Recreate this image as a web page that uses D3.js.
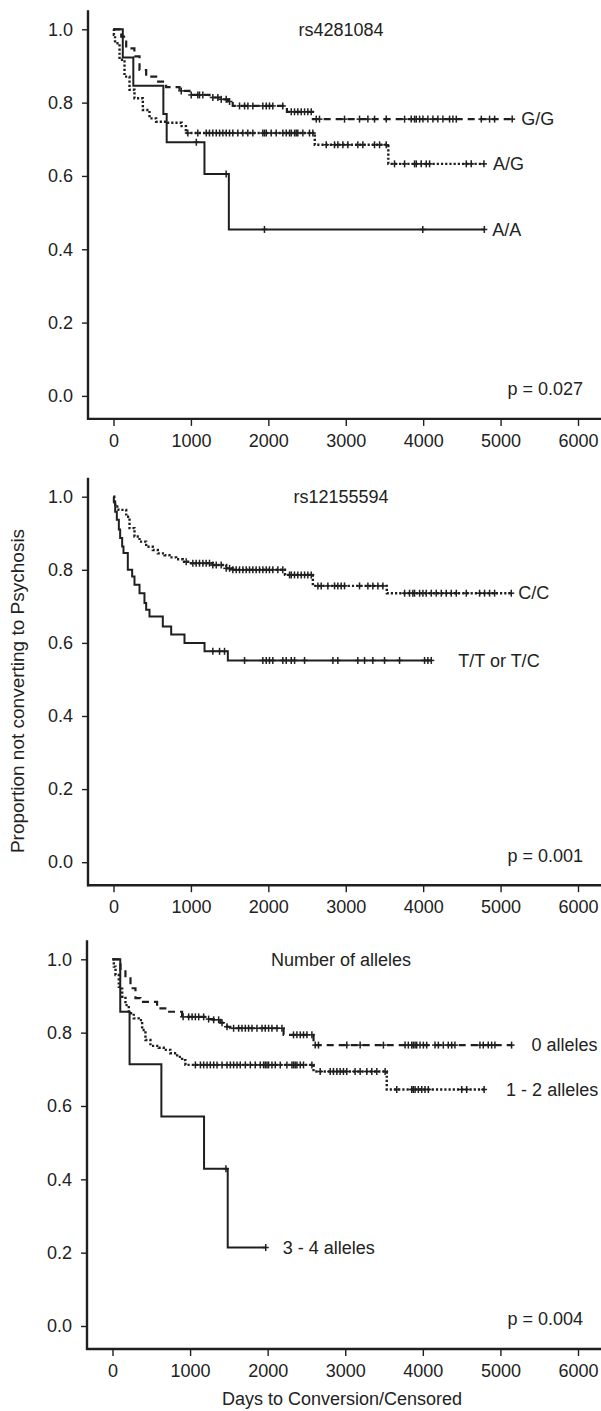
<!DOCTYPE html>
<html><head><meta charset="utf-8">
<script src="https://cdn.jsdelivr.net/npm/d3@7"></script>
<style>
body{margin:0;background:#fff;}
svg text{font-family:"Liberation Sans",Arial,Helvetica,sans-serif;fill:#222;}
</style></head><body>
<svg id="c" width="601" height="1411"></svg>
<script>
// ---------- data ----------
const xTicks = [0, 1000, 2000, 3000, 4000, 5000, 6000];
const yTicks = [0, 0.2, 0.4, 0.6, 0.8, 1.0];
const panelTitles = ["rs4281084", "rs12155594", "Number of alleles"];
const pValues = ["p = 0.027", "p = 0.001", "p = 0.004"];
const yTitle = "Proportion not converting to Psychosis";
const xTitle = "Days to Conversion/Censored";

// Panel 1: rs4281084
const ggLabel = "G/G";
const ggTimes = [100, 164, 270, 336, 422, 551, 680, 853, 982, 1240, 1370, 1477, 1540, 2240, 2575];
const ggSurv  = [0.98, 0.948, 0.926, 0.889, 0.871, 0.857, 0.842, 0.832, 0.821, 0.814, 0.809, 0.803, 0.791, 0.775, 0.755];
const ggCensor = [875, 1004, 1089, 1111, 1154, 1283, 1348, 1392, 1456, 1499, 1628, 1693, 1736, 1800, 1929, 1973, 2015, 2058, 2187, 2296, 2338, 2381, 2425, 2468, 2510, 2554, 2619, 2661, 2984, 3178, 3286, 3372, 3523, 3760, 3846, 3889, 3911, 3954, 3997, 4061, 4126, 4190, 4255, 4341, 4384, 4428, 4751, 4858, 4923, 5150];

const agLabel = "A/G";
const agTimes = [5, 20, 78, 142, 207, 271, 379, 465, 551, 700, 880, 935, 2600, 3550];
const agSurv  = [0.985, 0.962, 0.917, 0.871, 0.835, 0.812, 0.78, 0.757, 0.748, 0.745, 0.736, 0.717, 0.685, 0.633];
const agCensor = [960, 1089, 1198, 1240, 1283, 1327, 1370, 1413, 1456, 1499, 1541, 1606, 1671, 1735, 1800, 1929, 1951, 1973, 2037, 2102, 2187, 2231, 2274, 2296, 2339, 2360, 2381, 2446, 2532, 2575, 2748, 2855, 2898, 2963, 3027, 3156, 3221, 3372, 3437, 3523, 3630, 3760, 3889, 3911, 3975, 4040, 4083, 4557, 4621, 4785];

const aaLabel = "A/A";
const aaTimes = [120, 256, 644, 687, 1175, 1490];
const aaSurv  = [0.923, 0.846, 0.769, 0.692, 0.605, 0.454];
const aaCensor = [1070, 1455, 1950, 3995, 4790];

// Panel 2: rs12155594
const ccLabel = "C/C";
const ccTimes = [10, 22, 65, 164, 207, 271, 336, 422, 508, 572, 659, 723, 810, 895, 982, 1283, 1456, 1541, 2215, 2575, 3530];
const ccSurv  = [0.985, 0.973, 0.964, 0.945, 0.914, 0.891, 0.877, 0.863, 0.854, 0.845, 0.84, 0.834, 0.829, 0.822, 0.818, 0.813, 0.804, 0.8, 0.786, 0.756, 0.736];
const ccCensor = [939, 1025, 1068, 1111, 1154, 1197, 1240, 1283, 1327, 1391, 1456, 1499, 1541, 1585, 1628, 1671, 1714, 1757, 1800, 1843, 1886, 1929, 1973, 2015, 2058, 2123, 2187, 2274, 2296, 2338, 2381, 2425, 2468, 2510, 2554, 2640, 2683, 2769, 2855, 2898, 2941, 2984, 3178, 3286, 3350, 3415, 3480, 3760, 3824, 3867, 3889, 3954, 3997, 4040, 4105, 4169, 4234, 4298, 4363, 4428, 4557, 4729, 4793, 4858, 4923, 5138];

const ttLabel = "T/T or T/C";
const ttTimes = [4, 22, 43, 69, 86, 112, 129, 185, 241, 271, 336, 400, 422, 465, 637, 745, 917, 1176, 1477];
const ttSurv  = [0.987, 0.959, 0.937, 0.91, 0.887, 0.864, 0.846, 0.8, 0.782, 0.759, 0.736, 0.709, 0.691, 0.672, 0.645, 0.623, 0.6, 0.577, 0.552];
const ttCensor = [1283, 1370, 1434, 1693, 1929, 1973, 2015, 2058, 2187, 2231, 2296, 2339, 2468, 2834, 2898, 3156, 3243, 3350, 3501, 3695, 4018, 4061, 4105];

// Panel 3: number of alleles
const a0Label = "0 alleles";
const a0Times = [103, 167, 232, 296, 360, 575, 704, 897, 1219, 1304, 1390, 1476, 1519, 2205, 2591];
const a0Surv  = [0.971, 0.948, 0.921, 0.894, 0.884, 0.866, 0.857, 0.843, 0.837, 0.835, 0.827, 0.816, 0.812, 0.794, 0.766];
const a0Censor = [910, 982, 1026, 1068, 1111, 1175, 1239, 1304, 1368, 1412, 1476, 1561, 1626, 1669, 1712, 1754, 1798, 1862, 1927, 1969, 2012, 2055, 2120, 2184, 2333, 2377, 2420, 2462, 2506, 2570, 2613, 2655, 3020, 3192, 3492, 3771, 3813, 3857, 3877, 3900, 3921, 3964, 4007, 4050, 4157, 4200, 4264, 4328, 4372, 4414, 4736, 4779, 4843, 4887, 4929, 5144];

const a12Label = "1 - 2 alleles";
const a12Times = [17, 39, 81, 125, 167, 210, 274, 338, 382, 425, 489, 596, 660, 746, 833, 897, 940, 2591, 3535];
const a12Surv  = [0.98, 0.957, 0.925, 0.898, 0.875, 0.853, 0.839, 0.834, 0.807, 0.78, 0.764, 0.759, 0.753, 0.744, 0.734, 0.725, 0.712, 0.694, 0.645];
const a12Censor = [1068, 1133, 1175, 1219, 1261, 1304, 1347, 1412, 1476, 1519, 1561, 1605, 1647, 1712, 1776, 1840, 1905, 1947, 1969, 1991, 2012, 2055, 2098, 2162, 2248, 2313, 2334, 2355, 2377, 2420, 2462, 2570, 2677, 2806, 2848, 2892, 2934, 2977, 3020, 3127, 3192, 3278, 3342, 3407, 3514, 3664, 3857, 3877, 3900, 3942, 3986, 4028, 4071, 4501, 4565, 4790];

const a34Label = "3 - 4 alleles";
const a34Times = [100, 220, 630, 1180, 1485];
const a34Surv  = [0.857, 0.714, 0.571, 0.429, 0.214];
const a34Censor = [1462, 1975];

// ---------- layout / style ----------
const FONT = 18;
const INK = "#1f1f1f";
const dashes = {solid: null, dashed: "7,5", dotted: "2.2,2"};
const widths = {solid: 2, dashed: 2.2, dotted: 2.4};

const panels = [
  {axisX: 88, x0: 113.5, x1: 578, yTop: 29.3, yBot: 395.9,
   series: [
     {label: ggLabel, times: ggTimes, surv: ggSurv, censor: ggCensor, style: "dashed", gap: 9},
     {label: agLabel, times: agTimes, surv: agSurv, censor: agCensor, style: "dotted", gap: 9},
     {label: aaLabel, times: aaTimes, surv: aaSurv, censor: aaCensor, style: "solid", gap: 8}]},
  {axisX: 88, x0: 113.5, x1: 578, yTop: 496.7, yBot: 862.2,
   series: [
     {label: ccLabel, times: ccTimes, surv: ccSurv, censor: ccCensor, style: "dotted", gap: 7},
     {label: ttLabel, times: ttTimes, surv: ttSurv, censor: ttCensor, style: "solid", gap: 27}]},
  {axisX: 87, x0: 112.5, x1: 578, yTop: 959.3, yBot: 1326,
   series: [
     {label: a0Label, times: a0Times, surv: a0Surv, censor: a0Censor, style: "dashed", gap: 20},
     {label: a12Label, times: a12Times, surv: a12Surv, censor: a12Censor, style: "dotted", gap: 22},
     {label: a34Label, times: a34Times, surv: a34Surv, censor: a34Censor, style: "solid", gap: 17}]}
];

const svg = d3.select("#c");

panels.forEach((p, pi) => {
  const x = d3.scaleLinear().domain([0, 6000]).range([p.x0, p.x1]);
  const y = d3.scaleLinear().domain([0, 1]).range([p.yBot, p.yTop]);
  const axisLineY = y(0) + 23;
  const g = svg.append("g");

  // y axis
  const ya = g.append("g").attr("transform", `translate(${p.axisX},0)`)
    .call(d3.axisLeft(y).tickValues(yTicks).tickFormat(d3.format(".1f")).tickSize(6).tickPadding(9));
  ya.select(".domain").remove();
  ya.selectAll(".tick line").attr("stroke", INK).attr("stroke-width", 1.4);
  ya.selectAll(".tick text").attr("font-size", FONT).style("fill", "#222");
  ya.attr("font-family", null);

  // x axis
  const xa = g.append("g").attr("transform", `translate(0,${axisLineY})`)
    .call(d3.axisBottom(x).tickValues(xTicks).tickFormat(d3.format("d")).tickSize(7).tickPadding(8));
  xa.select(".domain").remove();
  xa.selectAll(".tick line").attr("stroke", INK).attr("stroke-width", 1.4);
  xa.selectAll(".tick text").attr("font-size", FONT).style("fill", "#222");
  xa.attr("font-family", null);

  // axis lines (L-shaped frame)
  g.append("line").attr("x1", p.axisX).attr("x2", p.axisX)
    .attr("y1", y(1) - 19).attr("y2", axisLineY + 1)
    .attr("stroke", INK).attr("stroke-width", 2.4);
  g.append("line").attr("x1", p.axisX - 1).attr("x2", 601)
    .attr("y1", axisLineY).attr("y2", axisLineY)
    .attr("stroke", INK).attr("stroke-width", 2.4);

  // title and p-value
  g.append("text").attr("x", 341).attr("y", y(1)).attr("dy", "0.35em")
    .attr("text-anchor", "middle").attr("font-size", FONT).text(panelTitles[pi]);
  g.append("text").attr("x", 583).attr("y", y(0) - 7).attr("dy", "0.35em")
    .attr("text-anchor", "end").attr("font-size", FONT).text(pValues[pi]);

  const line = d3.line().x(d => x(d[0])).y(d => y(d[1])).curve(d3.curveStepAfter);

  p.series.forEach(s => {
    const end = d3.max(s.censor);
    const lastS = s.surv[s.surv.length - 1];
    const pts = [[0, 1]].concat(s.times.map((t, i) => [t, s.surv[i]]), [[end, lastS]]);
    g.append("path").attr("d", line(pts)).attr("fill", "none")
      .attr("stroke", INK).attr("stroke-width", widths[s.style])
      .attr("stroke-dasharray", dashes[s.style]);
    const survAt = t => {
      let v = 1;
      s.times.forEach((tt, i) => { if (tt <= t) v = s.surv[i]; });
      return v;
    };
    const cg = g.append("g").attr("stroke", INK).attr("stroke-width", 1.5);
    s.censor.forEach(t => {
      const cx = x(t), cy = y(survAt(t));
      cg.append("line").attr("x1", cx).attr("x2", cx).attr("y1", cy - 3.5).attr("y2", cy + 3.5);
      cg.append("line").attr("x1", cx - 3).attr("x2", cx + 3).attr("y1", cy).attr("y2", cy);
    });
    g.append("text").attr("x", x(end) + s.gap).attr("y", y(lastS)).attr("dy", "0.35em")
      .attr("font-size", FONT).text(s.label);
  });

  if (pi === panels.length - 1) {
    g.append("text").attr("x", 342).attr("y", axisLineY + 50).attr("dy", "0.35em")
      .attr("text-anchor", "middle").attr("font-size", FONT).text(xTitle);
  }
});

svg.append("text").attr("transform", "translate(17,691) rotate(-90)")
  .attr("dy", "0.35em").attr("text-anchor", "middle").attr("font-size", 19).text(yTitle);
</script>
</body></html>
